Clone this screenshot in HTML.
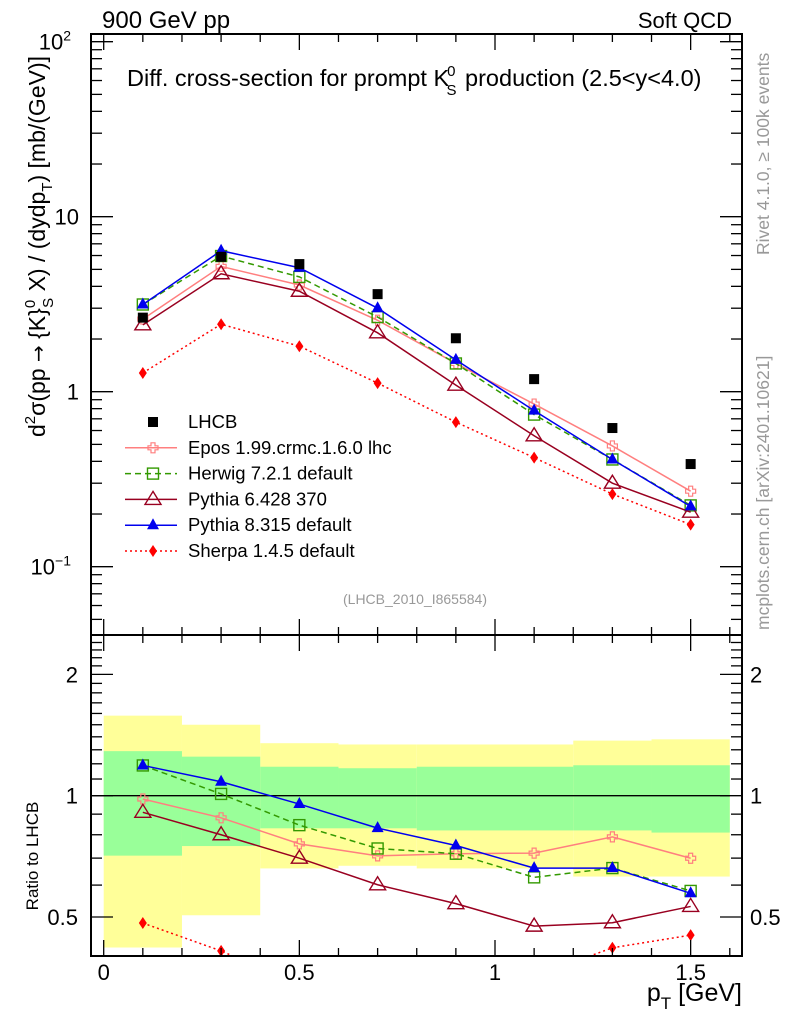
<!DOCTYPE html>
<html><head><meta charset="utf-8"><style>
body{margin:0;background:#fff;}
svg{display:block;font-family:"Liberation Sans",sans-serif;}
</style></head><body>
<svg id="c" width="786" height="1024" viewBox="0 0 786 1024"></svg>
<script>
const xs=[0.1,0.3,0.5,0.7,0.9,1.1,1.3,1.5];
const lhcb=[2.65,5.9,5.36,3.61,2.02,1.18,0.62,0.386];
const epos=[2.6,5.2,4.07,2.56,1.45,0.85,0.49,0.27];
const herwig=[3.15,5.96,4.53,2.67,1.45,0.74,0.41,0.224];
const py6=[2.41,4.72,3.75,2.17,1.09,0.56,0.30,0.205];
const py8=[3.15,6.39,5.11,3.0,1.52,0.78,0.41,0.221];
const sherpa=[1.28,2.43,1.82,1.12,0.67,0.42,0.26,0.174];
const binEdges=[0,0.2,0.4,0.6,0.8,1.0,1.2,1.4,1.6];
const greenHi=[1.29,1.25,1.18,1.17,1.18,1.18,1.19,1.19];
const greenLo=[0.71,0.75,0.83,0.83,0.82,0.82,0.82,0.81];
const yelHi=[1.58,1.50,1.35,1.34,1.34,1.34,1.37,1.38];
const yelLo=[0.42,0.505,0.66,0.67,0.66,0.66,0.63,0.63];
const xTicks=[0,0.5,1,1.5];
const xTickLabels=["0","0.5","1","1.5"];

const NS="http://www.w3.org/2000/svg";
const svg=document.getElementById('c');
const L=91,R=742,T1=34,B1=635,B2=956;
const X=v=>103.7+v*391.3;
const Y1=v=>391.7-Math.log10(v)*175;
const Y2=v=>795.7-Math.log2(v)*121.3;
function el(tag,attrs,parent){const e=document.createElementNS(NS,tag);for(const k in attrs)e.setAttribute(k,attrs[k]);(parent||svg).appendChild(e);return e;}
function txt(s,x,y,attrs){const e=el('text',Object.assign({x:x,y:y},attrs));e.textContent=s;return e;}

const bands=el('g',{});


for(let i=0;i<8;i++){
  const r=el('rect',{x:X(binEdges[i]),y:Y2(yelHi[i]),width:X(binEdges[i+1])-X(binEdges[i]),height:Y2(yelLo[i])-Y2(yelHi[i]),fill:'#ffff99'},bands);
  
  
}
for(let i=0;i<8;i++){
  const r=el('rect',{x:X(binEdges[i]),y:Y2(greenHi[i]),width:X(binEdges[i+1])-X(binEdges[i]),height:Y2(greenLo[i])-Y2(greenHi[i]),fill:'#99ff99'},bands);
  
  
}
const one=el('line',{x1:L,x2:X(1.6),y1:Y2(1),y2:Y2(1),stroke:'#000','stroke-width':1.3});



function marker(g,type,x,y,col){
  if(type==='sq')el('rect',{x:x-5,y:y-5,width:10,height:10,fill:'#000'},g);
  if(type==='cross')el('path',{d:`M${x-2},${y-5}h4v3h3v4h-3v3h-4v-3h-3v-4h3z`,fill:'none',stroke:col,'stroke-width':1.2},g);
  if(type==='osq')el('rect',{x:x-5.5,y:y-5.5,width:11,height:11,fill:'none',stroke:col,'stroke-width':1.4},g);
  if(type==='otri')el('path',{d:`M${x},${y-8}L${x+8},${y+5}L${x-8},${y+5}z`,fill:'none',stroke:col,'stroke-width':1.4},g);
  if(type==='tri')el('path',{d:`M${x},${y-7}L${x+6},${y+4}L${x-6},${y+4}z`,fill:col},g);
  if(type==='dia')el('path',{d:`M${x},${y-6}L${x+4},${y}L${x},${y+6}L${x-4},${y}z`,fill:col},g);
}
const series=[
 {name:'epos',vals:epos,col:'#ff7f7f',dash:'',m:'cross',label:'Epos 1.99.crmc.1.6.0 lhc'},
 {name:'herwig',vals:herwig,col:'#339900',dash:'6,4',m:'osq',label:'Herwig 7.2.1 default'},
 {name:'pythia6',vals:py6,col:'#990020',dash:'',m:'otri',label:'Pythia 6.428 370'},
 {name:'pythia8',vals:py8,col:'#0000ee',dash:'',m:'tri',label:'Pythia 8.315 default'},
 {name:'sherpa',vals:sherpa,col:'#ff0000',dash:'2,3',m:'dia',label:'Sherpa 1.4.5 default'}];

const defs=el('defs',{});
const c1=el('clipPath',{id:'cp1'},defs);el('rect',{x:L,y:T1,width:R-L,height:B1-T1},c1);
const c2=el('clipPath',{id:'cp2'},defs);el('rect',{x:L,y:B1,width:R-L,height:B2-B1},c2);

series.forEach(s=>{
  const g1=el('g',{'clip-path':'url(#cp1)'});
  
  
  el('polyline',{points:xs.map((x,i)=>X(x)+','+Y1(s.vals[i])).join(' '),fill:'none',stroke:s.col,'stroke-width':1.5,'stroke-dasharray':s.dash},g1);
  xs.forEach((x,i)=>marker(g1,s.m,X(x),Y1(s.vals[i]),s.col));
  const g2=el('g',{'clip-path':'url(#cp2)'});
  
  
  el('polyline',{points:xs.map((x,i)=>X(x)+','+Y2(s.vals[i]/lhcb[i])).join(' '),fill:'none',stroke:s.col,'stroke-width':1.5,'stroke-dasharray':s.dash},g2);
  xs.forEach((x,i)=>marker(g2,s.m,X(x),Y2(s.vals[i]/lhcb[i]),s.col));
});
const gd=el('g',{});


xs.forEach((x,i)=>marker(gd,'sq',X(x),Y1(lhcb[i]),'#000'));

el('rect',{x:L,y:T1,width:R-L,height:B1-T1,fill:'none',stroke:'#000','stroke-width':2});
el('rect',{x:L,y:B1,width:R-L,height:B2-B1,fill:'none',stroke:'#000','stroke-width':2});

const tk=el('g',{stroke:'#000','stroke-width':1.3});
for(let v=0;v<=1.6001;v+=0.1){
  const maj=Math.abs(v*2-Math.round(v*2))<1e-6, x=X(v);
  const len=maj?16:8;
  [[T1,1],[B1,-1],[B1,1],[B2,-1]].forEach(([y,d])=>el('line',{x1:x,x2:x,y1:y,y2:y+d*len},tk));
}
xTicks.forEach((v,i)=>{const t=txt(xTickLabels[i],X(v),980,{'font-size':22,'text-anchor':'middle'});
 });
for(let d=-2;d<=2;d++)for(let m=1;m<10;m++){
  const v=m*Math.pow(10,d),y=Y1(v); if(y<T1||y>B1)continue;
  const len=m===1?22:11;
  el('line',{x1:L,x2:L+len,y1:y,y2:y},tk);el('line',{x1:R,x2:R-len,y1:y,y2:y},tk);
}
const yl=[[Y1(100),'10','2'],[Y1(10),'10',''],[Y1(1),'1',''],[Y1(0.1),'10','−1']];
yl.forEach(([y,b,e])=>{const t=el('text',{x:e?71:79,y:y+8,'font-size':22,'text-anchor':'end'});
 
 t.textContent=b; if(e){const s=el('tspan',{'font-size':14,dy:-9},t);s.textContent=e;}});
const rt=[0.4,0.5,0.6,0.7,0.8,0.9,1,1.1,1.2,1.3,1.4,1.5,1.6,1.7,1.8,1.9,2,2.1,2.2,2.3,2.4,2.5];
rt.forEach(v=>{const y=Y2(v);const maj=[0.5,1,2].includes(v);const len=maj?22:11;
 el('line',{x1:L,x2:L+len,y1:y,y2:y},tk);el('line',{x1:R,x2:R-len,y1:y,y2:y},tk);});
[[0.5,'0.5'],[1,'1'],[2,'2']].forEach(([v,s])=>{
 const a=txt(s,78,Y2(v)+8,{'font-size':22,'text-anchor':'end'});
 const b=txt(s,750,Y2(v)+8,{'font-size':22});});

let t;
t=txt('900 GeV pp',102,28,{'font-size':24});
t=txt('Soft QCD',732,28,{'font-size':22,'text-anchor':'end'});
t=el('text',{x:127,y:86,'font-size':23.5});
t.innerHTML='Diff. cross-section for prompt K<tspan font-size="15" dy="-10" dx="-2">0</tspan><tspan font-size="15" dy="19" dx="-9">S</tspan><tspan dy="-9" dx="2"> production (2.5&lt;y&lt;4.0)</tspan>';
t=el('text',{transform:'translate(45,437) rotate(-90)','font-size':23});
t.innerHTML='d<tspan font-size="15" dy="-10">2</tspan><tspan dy="10">σ(pp </tspan><tspan font-family="DejaVu Sans" font-size="20">→</tspan><tspan> {K}</tspan><tspan font-size="15" dy="-10">0</tspan><tspan font-size="15" dy="18" dx="-8">S</tspan><tspan dy="-8"> X) / (dydp</tspan><tspan font-size="15" dy="7">T</tspan><tspan dy="-7">) [mb/(GeV)]</tspan>';
t=txt('Ratio to LHCB',0,0,{transform:'translate(38,856) rotate(-90)','font-size':17,'text-anchor':'middle'});
t=el('text',{x:742,y:1001,'font-size':25,'text-anchor':'end'});
t.innerHTML='p<tspan font-size="17" dy="8">T</tspan><tspan dy="-8"> [GeV]</tspan>';
t=txt('(LHCB_2010_I865584)',415,604,{'font-size':14,fill:'#999','text-anchor':'middle'});
t=txt('Rivet 4.1.0, ≥ 100k events',0,0,{transform:'translate(769,255) rotate(-90)','font-size':17.5,fill:'#999'});
t=txt('mcplots.cern.ch [arXiv:2401.10621]',0,0,{transform:'translate(769,630) rotate(-90)','font-size':17.5,fill:'#999'});

const lg=el('g',{});


const rows=[{m:'sq',col:'#000',label:'LHCB',dash:null}].concat(series);
rows.forEach((s,i)=>{
  const y=422+i*25.8;
  const e=el('g',{},lg);
  
  
  if(s.dash!==null)el('line',{x1:125,x2:177,y1:y,y2:y,stroke:s.col,'stroke-width':1.5,'stroke-dasharray':s.dash||''},e);
  marker(e,s.m,153,y,s.col);
  const tt=txt(s.label,188,y+6,{'font-size':18.5});e.appendChild(tt);
});
</script>
</body></html>
